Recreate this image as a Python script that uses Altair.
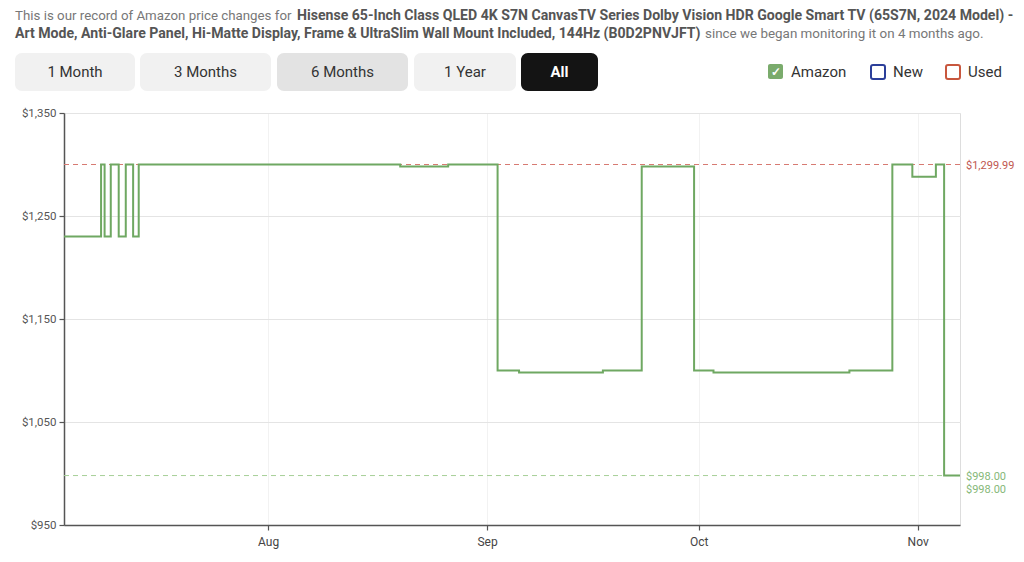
import altair as alt
import pandas as pd

# ---------------- data ----------------
dates = [
    "2024-07-03T02:00:00", "2024-07-08T08:00:00", "2024-07-08T20:00:00",
    "2024-07-09T17:00:00", "2024-07-10T20:00:00", "2024-07-11T20:00:00",
    "2024-07-12T21:00:00", "2024-07-13T16:00:00", "2024-08-19T17:00:00",
    "2024-08-26T12:00:00", "2024-09-02T12:00:00", "2024-09-05T13:00:00",
    "2024-09-17T10:00:00", "2024-09-22T22:00:00", "2024-09-30T08:00:00",
    "2024-10-03T02:00:00", "2024-10-22T08:00:00", "2024-10-28T10:00:00",
    "2024-10-31T06:00:00", "2024-11-03T14:00:00", "2024-11-04T18:00:00",
    "2024-11-07T00:00:00",
]
prices = [
    1229.99, 1299.99, 1229.99,
    1299.99, 1229.99, 1299.99,
    1229.99, 1299.99, 1297.99,
    1299.99, 1099.99, 1097.99,
    1099.99, 1297.99, 1099.99,
    1097.99, 1099.99, 1299.99,
    1287.99, 1299.99, 998.00,
    998.00,
]
y_ticks = [950, 1050, 1150, 1250, 1350]
x_tick_months = [8, 9, 10, 11]
highest = 1299.99
lowest = 998.00
highest_label = "$1,299.99"
lowest_label = "$998.00"
current_label = "$998.00"

header_1a = "This is our record of Amazon price changes for "
header_1b = "Hisense 65-Inch Class QLED 4K S7N CanvasTV Series Dolby Vision HDR Google Smart TV (65S7N, 2024 Model) -"
header_2a = "Art Mode, Anti-Glare Panel, Hi-Matte Display, Frame & UltraSlim Wall Mount Included, 144Hz (B0D2PNVJFT)"
header_2b = " since we began monitoring it on 4 months ago."
buttons = ["1 Month", "3 Months", "6 Months", "1 Year", "All"]
legend_items = ["Amazon", "New", "Used"]

df = pd.DataFrame({"date": dates, "price": prices})
one = pd.DataFrame({"a": [0]})

FONT = "Roboto"
W, H = 896, 412

xscale = alt.Scale(domain=[alt.DateTime(year=2024, month=7, date=3, hours=2),
                           alt.DateTime(year=2024, month=11, date=7)])
yscale = alt.Scale(domain=[950, 1350], nice=False, zero=False)

x_enc = alt.X("date:T", scale=xscale, title=None,
              axis=alt.Axis(values=[alt.DateTime(year=2024, month=m, date=1) for m in x_tick_months],
                            format="%b", labelFont=FONT, labelFontSize=12, labelColor="#444",
                            domainColor="#555", domainWidth=1.5, tickColor="#555", tickWidth=1.2,
                            tickSize=5, labelPadding=6, grid=True, gridColor="#f2f2f2"))
y_enc = alt.Y("price:Q", scale=yscale, title=None,
              axis=alt.Axis(values=y_ticks, format="$,.0f", labelFont=FONT, labelFontSize=11.5,
                            labelColor="#555", domainColor="#555", domainWidth=1.5,
                            tickColor="#555", tickWidth=1.2, tickSize=5, labelPadding=3,
                            grid=True, gridColor="#e4e4e4"))

line = alt.Chart(df).mark_line(interpolate="step-after", color="#6fa862", strokeWidth=2).encode(
    x=x_enc, y=y_enc)

rule_hi = alt.Chart(one).mark_rule(color="#d77a72", strokeDash=[5, 4], strokeWidth=1).encode(
    y=alt.datum(highest))
rule_lo = alt.Chart(one).mark_rule(color="#a6cf98", strokeDash=[5, 4], strokeWidth=1).encode(
    y=alt.datum(lowest))

lbl_hi = alt.Chart(one).mark_text(align="left", baseline="middle", font=FONT, fontSize=11,
                                  color="#c0574f", dy=1).encode(
    x=alt.value(902), y=alt.datum(highest), text=alt.value(highest_label))
lbl_cur = alt.Chart(one).mark_text(align="left", baseline="middle", font=FONT, fontSize=11,
                                   color="#86b878", dy=1).encode(
    x=alt.value(902), y=alt.datum(lowest), text=alt.value(current_label))
lbl_lo = alt.Chart(one).mark_text(align="left", baseline="middle", font=FONT, fontSize=11,
                                  color="#86b878", dy=14).encode(
    x=alt.value(902), y=alt.datum(lowest), text=alt.value(lowest_label))

layers = [rule_hi, rule_lo, line, lbl_hi, lbl_cur, lbl_lo]


def txt(x, y, s, size=13, color="#666", weight="normal", align="left"):
    return alt.Chart(one).mark_text(align=align, baseline="middle", font=FONT, fontSize=size,
                                    color=color, fontWeight=weight).encode(
        x=alt.value(x), y=alt.value(y), text=alt.value(s))


def rect(x, x2, y, y2, fill, stroke=None, radius=6, sw=0):
    kw = dict(fill=fill, cornerRadius=radius)
    if stroke is not None:
        kw.update(stroke=stroke, strokeWidth=sw)
    return alt.Chart(one).mark_rect(**kw).encode(
        x=alt.value(x), x2=alt.value(x2), y=alt.value(y), y2=alt.value(y2))


# header
layers.append(txt(-49, -97, header_1a, size=13.3, color="#777"))
layers.append(txt(233, -97, header_1b, size=14.1, color="#555", weight="bold"))
layers.append(txt(-49, -79, header_2a, size=14.1, color="#555", weight="bold"))
layers.append(txt(641, -79, header_2b, size=13.4, color="#777"))

# buttons
btn_x = [(-49, 71), (76, 207), (213, 344), (350, 452), (457, 534)]
btn_fill = ["#f1f1f1", "#f1f1f1", "#e3e3e3", "#f1f1f1", "#141414"]
for (bx0, bx1), fill, label in zip(btn_x, btn_fill, buttons):
    layers.append(rect(bx0, bx1, -60, -22, fill, radius=7))
    is_all = label == "All"
    layers.append(txt((bx0 + bx1) / 2, -41, label, size=15,
                      color="#ffffff" if is_all else "#333",
                      weight="bold" if is_all else "normal", align="center"))

# legend
layers.append(rect(704, 719, -49, -34, "#7aab6c", radius=2))
layers.append(txt(711.5, -41.5, "✓", size=12, color="#ffffff", weight="bold", align="center"))
layers.append(txt(727, -41, legend_items[0], size=15, color="#333"))
layers.append(rect(807, 821, -48, -34, "#ffffff", stroke="#2c3f9a", radius=2, sw=2))
layers.append(txt(829, -41, legend_items[1], size=15, color="#333"))
layers.append(rect(882, 896, -48, -34, "#ffffff", stroke="#c8573e", radius=2, sw=2))
layers.append(txt(904, -41, legend_items[2], size=15, color="#333"))

chart = alt.layer(*layers).properties(
    width=W, height=H,
    autosize=alt.AutoSizeParams(type="none"),
    padding={"left": 56, "top": 105, "right": 56, "bottom": 29},
).configure_view(stroke=None).configure(background="#ffffff")

chart.save("out.html", embed_options={"renderer": "svg", "actions": False})
